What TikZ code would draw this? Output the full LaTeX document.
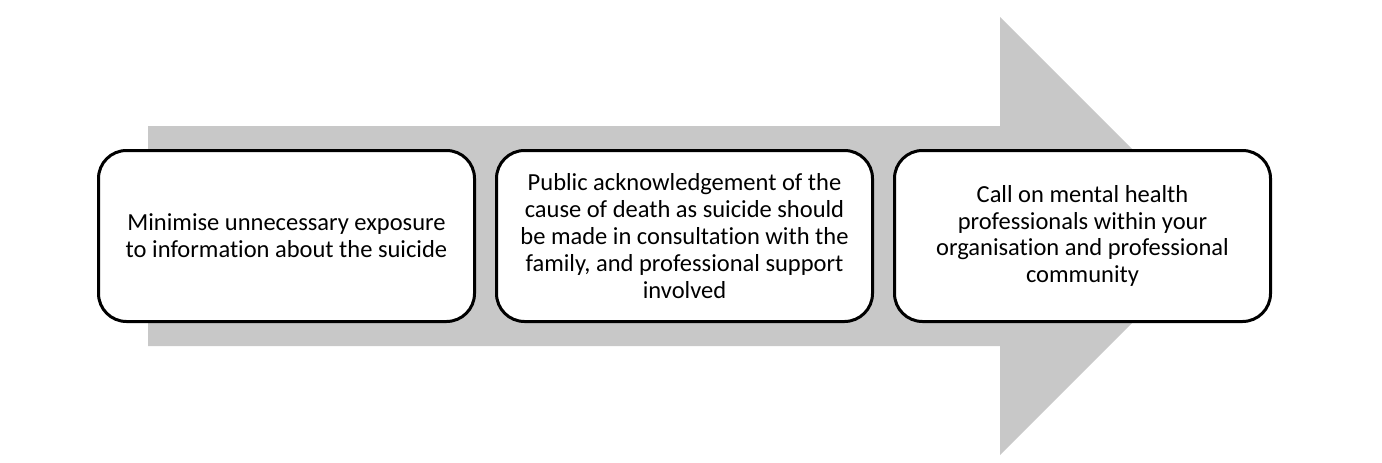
\documentclass[tikz,border=0pt]{standalone}
\usepackage{fontspec}
\setmainfont{Carlito}[Ligatures=NoCommon]
\definecolor{arrowgray}{RGB}{200,200,200}
\begin{document}
\begin{tikzpicture}[x=1pt,y=-1pt,
  stepbox/.style={draw=black, line width=3pt, fill=white, rounded corners=28pt,
    minimum width=376pt, minimum height=171pt, align=center, inner sep=0pt,
    font=\fontsize{24.5}{26.8}\selectfont}]
\useasboundingbox (0,0) rectangle (1382,463);
\fill[arrowgray] (148,126) -- (1000,126) -- (1000,17) -- (1219,236) -- (1000,455) -- (1000,346) -- (148,346) -- cycle;
\node[stepbox] (b1) at (286.5,236) {Minimise unnecessary exposure\\to information about the suicide};
\node[stepbox] (b2) at (684.5,236) {Public acknowledgement of the\\cause of death as suicide should\\be made in consultation with the\\family, and professional support\\involved};
\node[stepbox] (b3) at (1082.5,236) {Call on mental health\\professionals within your\\organisation and professional\\community};
\end{tikzpicture}
\end{document}
